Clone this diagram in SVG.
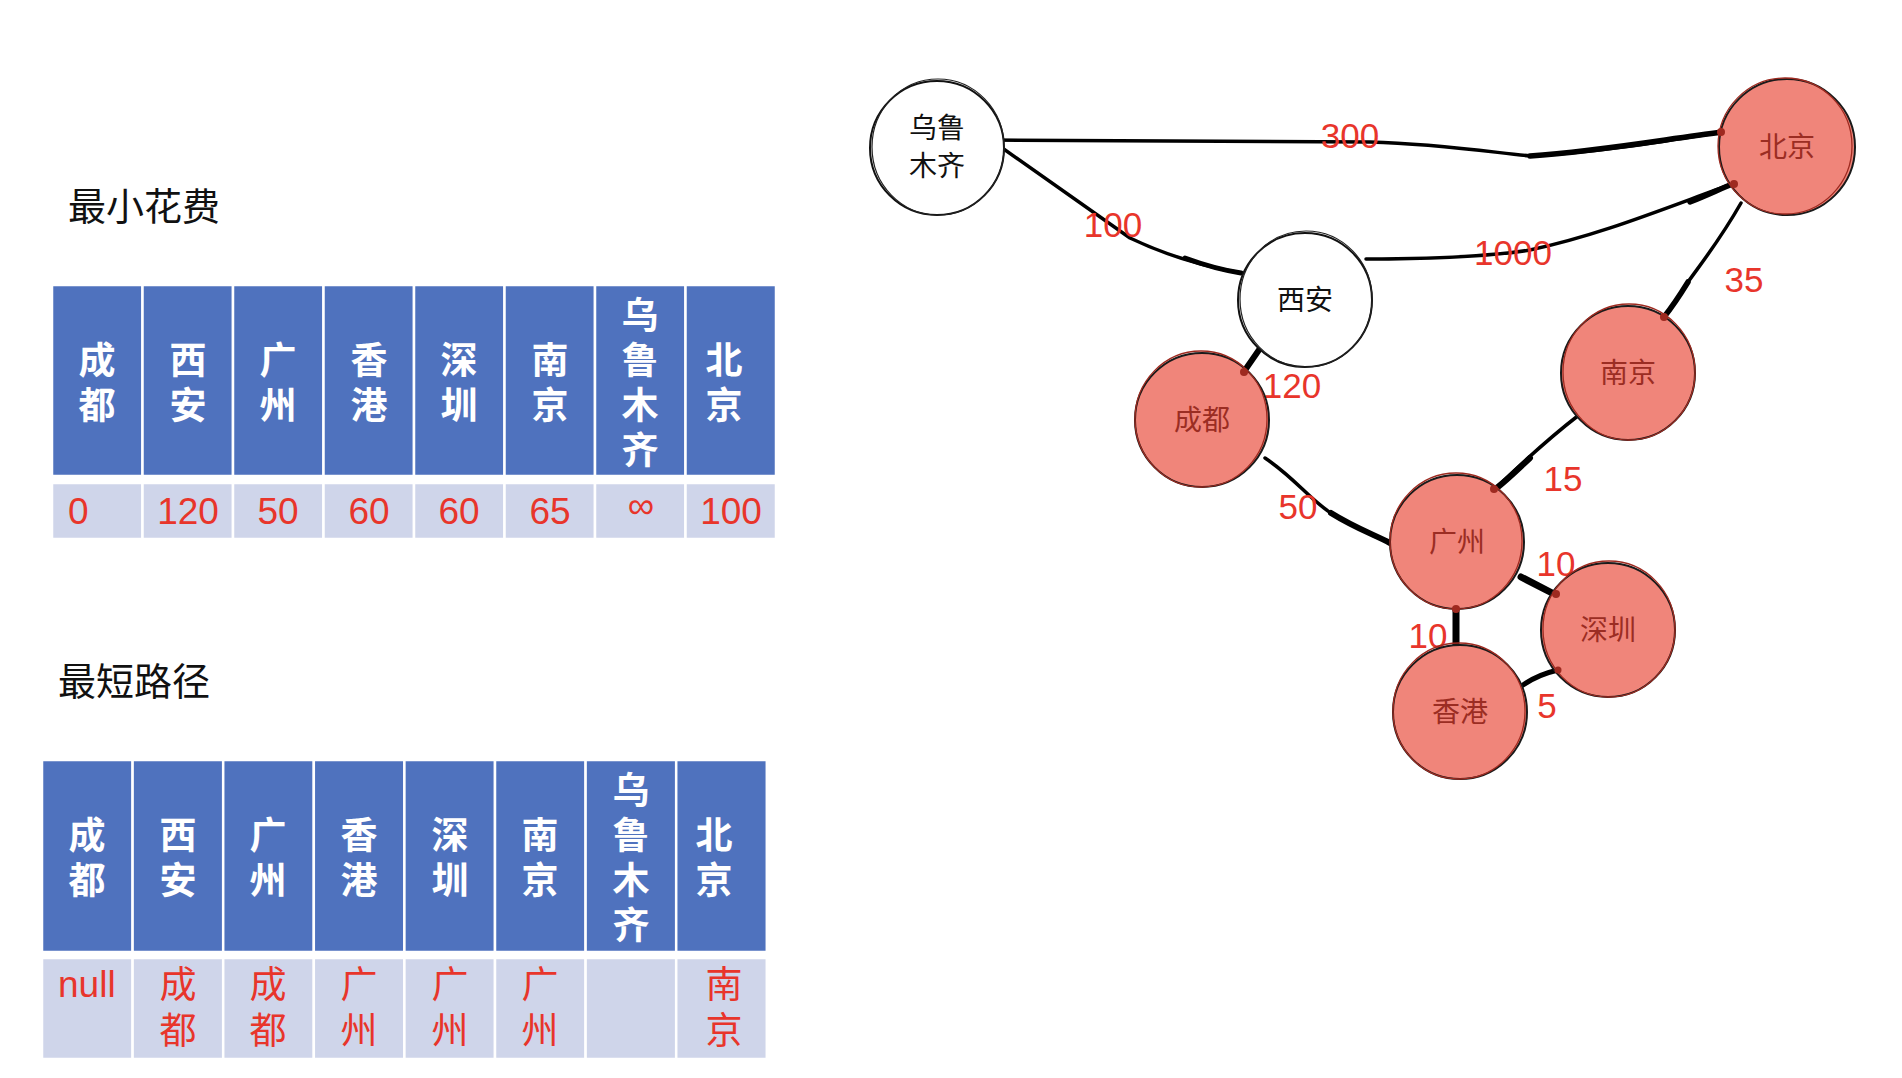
<svg xmlns="http://www.w3.org/2000/svg" width="1902" height="1078" viewBox="0 0 1902 1078">
<style>
.title{font-family:"Noto Sans CJK SC","Liberation Sans",sans-serif;font-size:38px;fill:#111}
.hdr{fill:#4F72BE;stroke:#fff;stroke-width:2.5}
.val{fill:#CFD5EA;stroke:#fff;stroke-width:2.5}
.ht{font-family:"Noto Sans CJK SC",sans-serif;font-weight:bold;font-size:37px;fill:#fff;text-anchor:middle;writing-mode:vertical-rl;letter-spacing:8px}
.vt{font-family:"Liberation Sans","Noto Sans CJK SC",sans-serif;font-size:37px;fill:#E8352B;text-anchor:middle}
.vc{font-family:"Noto Sans CJK SC",sans-serif;font-size:37px;fill:#E8352B;text-anchor:middle;writing-mode:vertical-rl;letter-spacing:9px}
.edge{fill:none;stroke:#000;stroke-width:3.5;stroke-linecap:round;stroke-linejoin:round}
.thick{fill:none;stroke:#000;stroke-width:6;stroke-linecap:round}
.el{font-family:"Liberation Sans",sans-serif;font-size:35px;fill:#E8352B;text-anchor:middle}
.nw{fill:#fff;stroke:#111;stroke-width:2}
.nr{fill:#F0857A;stroke:#1a1a1a;stroke-width:2}
.sk{fill:none;stroke:#9E2A20;stroke-width:1.3}
.skb{fill:none;stroke:#222;stroke-width:1.2}
.lw{font-family:"Noto Sans CJK SC",sans-serif;font-size:28px;fill:#111;text-anchor:middle}
.lr{font-family:"Noto Sans CJK SC",sans-serif;font-size:28px;fill:#9B2D23;text-anchor:middle}
.dot{fill:#9E2A20}
</style>
<rect width="1902" height="1078" fill="#fff"/>

<g id="table-cost">
<text class="title" x="68" y="220">最小花费</text>
<rect class="hdr" x="52" y="285" width="90.5" height="191"/>
<rect class="hdr" x="142.5" y="285" width="90.5" height="191"/>
<rect class="hdr" x="233" y="285" width="90.5" height="191"/>
<rect class="hdr" x="323.5" y="285" width="90.5" height="191"/>
<rect class="hdr" x="414" y="285" width="90.5" height="191"/>
<rect class="hdr" x="504.5" y="285" width="90.5" height="191"/>
<rect class="hdr" x="595" y="285" width="90.5" height="191"/>
<rect class="hdr" x="685.5" y="285" width="90.5" height="191"/>
<rect class="val" x="52" y="483" width="90.5" height="56"/>
<rect class="val" x="142.5" y="483" width="90.5" height="56"/>
<rect class="val" x="233" y="483" width="90.5" height="56"/>
<rect class="val" x="323.5" y="483" width="90.5" height="56"/>
<rect class="val" x="414" y="483" width="90.5" height="56"/>
<rect class="val" x="504.5" y="483" width="90.5" height="56"/>
<rect class="val" x="595" y="483" width="90.5" height="56"/>
<rect class="val" x="685.5" y="483" width="90.5" height="56"/>
<text class="ht" x="97" y="386">成都</text>
<text class="ht" x="188" y="386">西安</text>
<text class="ht" x="278" y="386">广州</text>
<text class="ht" x="369" y="386">香港</text>
<text class="ht" x="459" y="386">深圳</text>
<text class="ht" x="550" y="386">南京</text>
<text class="ht" x="640" y="386">乌鲁木齐</text>
<text class="ht" x="724" y="386">北京</text>
<text class="vt" x="68" y="524" style="text-anchor:start">0</text>
<text class="vt" x="188" y="524">120</text>
<text class="vt" x="278" y="524">50</text>
<text class="vt" x="369" y="524">60</text>
<text class="vt" x="459" y="524">60</text>
<text class="vt" x="550" y="524">65</text>
<text class="vt" x="641" y="518">∞</text>
<text class="vt" x="731" y="524">100</text>
</g>

<g id="table-path">
<text class="title" x="58" y="695">最短路径</text>
<rect class="hdr" x="42" y="760" width="90.6" height="192"/>
<rect class="hdr" x="132.6" y="760" width="90.6" height="192"/>
<rect class="hdr" x="223.2" y="760" width="90.6" height="192"/>
<rect class="hdr" x="313.8" y="760" width="90.6" height="192"/>
<rect class="hdr" x="404.4" y="760" width="90.6" height="192"/>
<rect class="hdr" x="495" y="760" width="90.6" height="192"/>
<rect class="hdr" x="585.6" y="760" width="90.6" height="192"/>
<rect class="hdr" x="676.2" y="760" width="90.6" height="192"/>
<rect class="val" x="42" y="958" width="90.6" height="101"/>
<rect class="val" x="132.6" y="958" width="90.6" height="101"/>
<rect class="val" x="223.2" y="958" width="90.6" height="101"/>
<rect class="val" x="313.8" y="958" width="90.6" height="101"/>
<rect class="val" x="404.4" y="958" width="90.6" height="101"/>
<rect class="val" x="495" y="958" width="90.6" height="101"/>
<rect class="val" x="585.6" y="958" width="90.6" height="101"/>
<rect class="val" x="676.2" y="958" width="90.6" height="101"/>
<text class="ht" x="87" y="861">成都</text>
<text class="ht" x="178" y="861">西安</text>
<text class="ht" x="268" y="861">广州</text>
<text class="ht" x="359" y="861">香港</text>
<text class="ht" x="450" y="861">深圳</text>
<text class="ht" x="540" y="861">南京</text>
<text class="ht" x="631" y="861">乌鲁木齐</text>
<text class="ht" x="714" y="861">北京</text>
<text class="vt" x="58" y="997" style="text-anchor:start">null</text>
<text class="vc" x="178" y="1011">成都</text>
<text class="vc" x="268" y="1011">成都</text>
<text class="vc" x="359" y="1011">广州</text>
<text class="vc" x="450" y="1011">广州</text>
<text class="vc" x="540" y="1011">广州</text>
<text class="vc" x="724" y="1011">南京</text>
</g>

<g id="connectors">
<path class="edge" d="M991,140 L1370,142 C1440,144 1490,152 1530,156 C1600,152 1660,142 1722,132"/>
<path class="edge" style="stroke-width:5.5" d="M1530,156 C1600,151 1660,140 1722,132"/>
<path class="edge" d="M991,140 L1130,238 Q1180,262 1241,273"/>
<path class="edge" style="stroke-width:5" d="M1185,258 Q1215,269 1241,273"/>
<path class="edge" d="M1366,259 C1420,259 1480,258 1530,250 C1600,235 1660,210 1735,183"/>
<path class="edge" style="stroke-width:5.5" d="M1690,202 C1710,194 1722,188 1735,183"/>
<path class="edge" d="M1741,203 C1720,240 1700,265 1688,282 C1680,295 1672,307 1664,317"/>
<path class="edge" style="stroke-width:5.5" d="M1688,282 C1680,295 1672,307 1664,317"/>
<path class="thick" d="M1261,347 L1243,373"/>
<path class="edge" d="M1265,458 C1295,478 1310,500 1331,513 C1355,528 1375,535 1390,543"/>
<path class="edge" style="stroke-width:6" d="M1331,513 C1355,528 1375,535 1390,543"/>
<path class="edge" d="M1579,415 C1540,445 1515,470 1494,490"/>
<path class="edge" style="stroke-width:6" d="M1530,458 C1515,472 1505,482 1494,490"/>
<path class="thick" style="stroke-width:7" d="M1521,577 L1556,595"/>
<path class="thick" style="stroke-width:7" d="M1456,608 L1456,645"/>
<path class="edge" style="stroke-width:5" d="M1558,670 C1545,673 1533,678 1523,685"/>
<text class="el" x="1350" y="148">300</text>
<text class="el" x="1113" y="237">100</text>
<text class="el" x="1513" y="265">1000</text>
<text class="el" x="1744" y="292">35</text>
<text class="el" x="1292" y="398">120</text>
<text class="el" x="1298" y="519">50</text>
<text class="el" x="1563" y="491">15</text>
<text class="el" x="1556" y="576">10</text>
<text class="el" x="1428" y="648">10</text>
<text class="el" x="1547" y="718">5</text>
</g>

<g id="node-wulumuqi">
<circle class="nw" cx="937" cy="148" r="67"/>
<ellipse class="skb" cx="938" cy="147" rx="66" ry="68"/>
<text class="lw" x="937" y="138">乌鲁</text>
<text class="lw" x="937" y="176">木齐</text>
</g>
<g id="node-beijing">
<circle class="nr" cx="1787" cy="147" r="68"/>
<ellipse class="sk" cx="1785" cy="146" rx="67" ry="68"/>
<circle class="dot" cx="1721" cy="132" r="4"/>
<circle class="dot" cx="1734" cy="184" r="4"/>
<text class="lr" x="1787" y="157">北京</text>
</g>
<g id="node-xian">
<circle class="nw" cx="1305" cy="300" r="67"/>
<ellipse class="skb" cx="1306" cy="299" rx="66" ry="68"/>
<text class="lw" x="1305" y="310">西安</text>
</g>
<g id="node-chengdu">
<circle class="nr" cx="1202" cy="420" r="67"/>
<ellipse class="sk" cx="1201" cy="419" rx="66" ry="68"/>
<circle class="dot" cx="1244" cy="372" r="4"/>
<text class="lr" x="1202" y="430">成都</text>
</g>
<g id="node-nanjing">
<circle class="nr" cx="1628" cy="373" r="67"/>
<ellipse class="sk" cx="1629" cy="372" rx="66" ry="68"/>
<circle class="dot" cx="1664" cy="317" r="4"/>
<text class="lr" x="1628" y="383">南京</text>
</g>
<g id="node-guangzhou">
<circle class="nr" cx="1457" cy="542" r="67"/>
<ellipse class="sk" cx="1456" cy="541" rx="66" ry="68"/>
<circle class="dot" cx="1494" cy="489" r="4"/>
<circle class="dot" cx="1456" cy="609" r="4"/>
<text class="lr" x="1457" y="552">广州</text>
</g>
<g id="node-shenzhen">
<circle class="nr" cx="1608" cy="630" r="67"/>
<ellipse class="sk" cx="1609" cy="629" rx="66" ry="68"/>
<circle class="dot" cx="1556" cy="594" r="4"/>
<circle class="dot" cx="1558" cy="670" r="3.5"/>
<text class="lr" x="1608" y="640">深圳</text>
</g>
<g id="node-xianggang">
<circle class="nr" cx="1460" cy="712" r="67"/>
<ellipse class="sk" cx="1459" cy="711" rx="66" ry="68"/>
<text class="lr" x="1460" y="722">香港</text>
</g>
</svg>
